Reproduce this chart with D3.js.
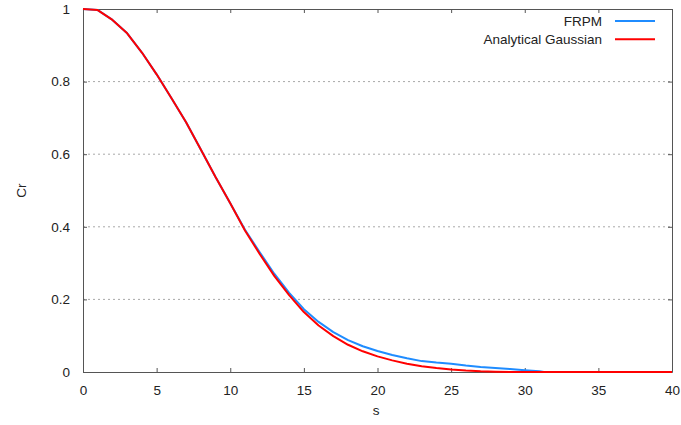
<!DOCTYPE html>
<html>
<head>
<meta charset="utf-8">
<script src="https://cdn.jsdelivr.net/npm/d3@7"></script>
<style>
  html, body { margin: 0; padding: 0; background: #fff; }
  svg text { font-family: "Liberation Sans", Arial, sans-serif; font-size: 13.5px; fill: #222; }
</style>
</head>
<body>
<svg id="chart" width="681" height="425"></svg>
<script>
// Correlation vs. separation s
const sFRPM = [0, 1, 2, 3, 4, 5, 6, 7, 8, 9, 10, 11, 12, 13, 14, 15, 16, 17, 18, 19, 20,
               21, 22, 23, 24, 25, 26, 27, 28, 29, 30, 31, 31.3];
const crFRPM = [1.000, 0.997, 0.970, 0.933, 0.880, 0.820, 0.755, 0.688, 0.613, 0.537, 0.465,
                0.392, 0.330, 0.270, 0.218, 0.173, 0.138, 0.110, 0.088, 0.071, 0.058,
                0.047, 0.038, 0.030, 0.026, 0.023, 0.018, 0.014, 0.011, 0.008, 0.005, 0.002, 0.000];

const sGauss = [0, 1, 2, 3, 4, 5, 6, 7, 8, 9, 10, 11, 12, 13, 14, 15, 16, 17, 18, 19, 20,
                21, 22, 23, 24, 25, 26, 27, 28, 29, 30, 35, 40];
const crGauss = [1.000, 0.997, 0.970, 0.933, 0.880, 0.820, 0.755, 0.688, 0.613, 0.537, 0.465,
                 0.390, 0.325, 0.264, 0.212, 0.165, 0.128, 0.099, 0.075, 0.057, 0.043,
                 0.032, 0.023, 0.016, 0.011, 0.007, 0.004, 0.002, 0.001, 0.000, 0.000, 0.000, 0.000];

const xTicks = [0, 5, 10, 15, 20, 25, 30, 35, 40];
const yTicks = [0, 0.2, 0.4, 0.6, 0.8, 1];
const seriesNames = ["FRPM", "Analytical Gaussian"];
const seriesColors = ["#1f8cff", "#ff0000"];

const svg = d3.select("#chart");
const margin = { left: 83, right: 9, top: 9, bottom: 53 };
const W = 681, H = 425;
const x = d3.scaleLinear().domain([0, 40]).range([margin.left, W - margin.right]);
const y = d3.scaleLinear().domain([0, 1]).range([H - margin.bottom, margin.top]);

const axisColor = "#555";
const fontFamily = '"Liberation Sans", Arial, sans-serif';

// dotted grid lines
svg.append("g").selectAll("line").data(yTicks.filter(d => d > 0 && d < 1)).join("line")
  .attr("x1", x(0)).attr("x2", x(40))
  .attr("y1", d => y(d)).attr("y2", d => y(d))
  .attr("stroke", "#a8a8a8").attr("stroke-width", 1)
  .attr("stroke-dasharray", "2,3");

// axes with inward ticks, mirrored on top and right
const fmt = d => d3.format("~g")(d);
const gx = svg.append("g").attr("transform", `translate(0,${y(0)})`)
  .call(d3.axisBottom(x).tickValues(xTicks).tickFormat(fmt).tickSizeInner(-4).tickSizeOuter(0).tickPadding(13));
const gxTop = svg.append("g").attr("transform", `translate(0,${y(1)})`)
  .call(d3.axisTop(x).tickValues(xTicks).tickFormat("").tickSizeInner(-4).tickSizeOuter(0));
const gy = svg.append("g").attr("transform", `translate(${x(0)},0)`)
  .call(d3.axisLeft(y).tickValues(yTicks).tickFormat(fmt).tickSizeInner(-4).tickSizeOuter(0).tickPadding(13));
const gyRight = svg.append("g").attr("transform", `translate(${x(40)},0)`)
  .call(d3.axisRight(y).tickValues(yTicks).tickFormat("").tickSizeInner(-4).tickSizeOuter(0));

[gx, gxTop, gy, gyRight].forEach(g => {
  g.select(".domain").attr("stroke", axisColor).attr("stroke-width", 1);
  g.selectAll(".tick line").attr("stroke", axisColor);
  g.selectAll("text").attr("fill", "#222").style("font-size", "13.5px")
    .style("font-family", fontFamily);
});

// axis titles
svg.append("text").attr("x", 376).attr("y", 415).attr("text-anchor", "middle").text("s");
svg.append("text").attr("transform", `translate(26,${y(0.5)}) rotate(-90)`)
  .attr("text-anchor", "middle").text("Cr");

// curves
const line = d3.line().x(d => x(d[0])).y(d => y(d[1]));
const frpm = sFRPM.map((s, i) => [s, crFRPM[i]]);
const gauss = sGauss.map((s, i) => [s, crGauss[i]]);

svg.append("path").datum(frpm).attr("d", line)
  .attr("fill", "none").attr("stroke", seriesColors[0]).attr("stroke-width", 2)
  .attr("stroke-linejoin", "round");
svg.append("path").datum(gauss).attr("d", line)
  .attr("fill", "none").attr("stroke", seriesColors[1]).attr("stroke-width", 2)
  .attr("stroke-linejoin", "round");

// legend
const legend = svg.append("g");
seriesNames.forEach((name, i) => {
  const ly = 21 + i * 18.3;
  legend.append("text").attr("x", 602).attr("y", ly + 5).attr("text-anchor", "end").text(name);
  legend.append("line").attr("x1", 615).attr("x2", 655).attr("y1", ly).attr("y2", ly)
    .attr("stroke", seriesColors[i]).attr("stroke-width", 2);
});
</script>
</body>
</html>
